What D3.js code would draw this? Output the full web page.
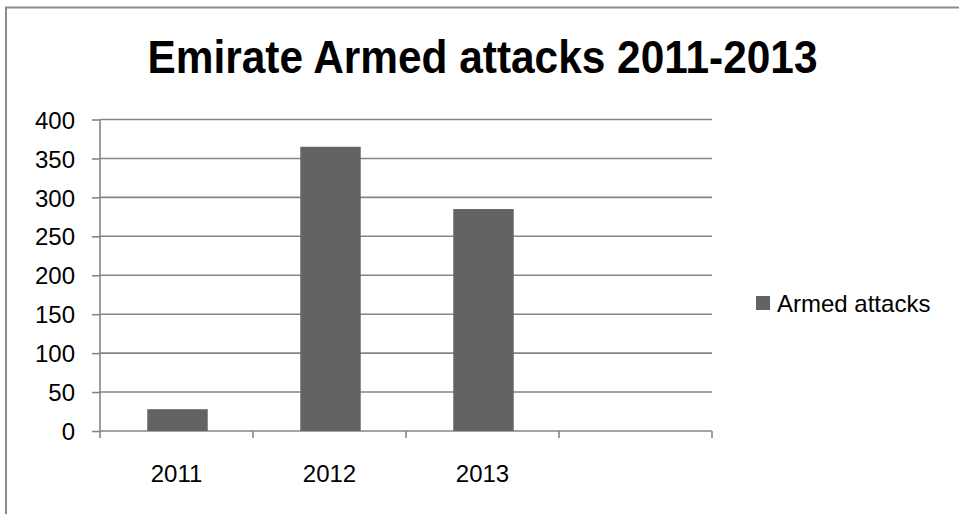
<!DOCTYPE html>
<html>
<head>
<meta charset="utf-8">
<script src="https://cdn.jsdelivr.net/npm/d3@7"></script>
<style>
  html, body { margin: 0; padding: 0; background: #ffffff; }
  svg { display: block; }
</style>
</head>
<body>
<svg id="chart" width="959" height="514"></svg>
<script>
const title = "Emirate Armed attacks 2011-2013";
const seriesName = "Armed attacks";
const categories = ["2011", "2012", "2013", ""];
const values = [28, 365, 285, null];
const yTicks = [0, 50, 100, 150, 200, 250, 300, 350, 400];

const svg = d3.select("#chart");
const W = 959, H = 514;
const plot = { left: 100, right: 712, top: 119.5, bottom: 431 };
const gridColor = "#868686";
const barColor = "#636363";
const textFont = "'Liberation Sans', Arial, sans-serif";

svg.append("rect").attr("width", W).attr("height", H).attr("fill", "#fff");

// outer chart border (extends beyond the view on right/bottom)
svg.append("rect")
  .attr("x", 6).attr("y", 7.5)
  .attr("width", 1000).attr("height", 600)
  .attr("fill", "none").attr("stroke", "#8c8c8c").attr("stroke-width", 2);

const x = d3.scaleBand().domain(categories).range([plot.left, plot.right]).padding(0);
const y = d3.scaleLinear().domain([0, 400]).range([plot.bottom, plot.top]);

// gridlines + y ticks
const yAxis = d3.axisLeft(y).tickValues(yTicks).tickSize(8).tickPadding(17).tickFormat(d3.format("d"));
const gy = svg.append("g").attr("transform", `translate(${plot.left},0)`).call(yAxis);
gy.select(".domain").remove();
gy.selectAll(".tick line").attr("stroke", gridColor).attr("stroke-width", 1.6);
gy.selectAll(".tick text")
  .attr("fill", "#000").attr("font-family", textFont).attr("font-size", 24)
  .attr("dy", "0.36em");

svg.append("g").selectAll("line").data(yTicks).join("line")
  .attr("x1", plot.left).attr("x2", plot.right)
  .attr("y1", d => y(d)).attr("y2", d => y(d))
  .attr("stroke", gridColor).attr("stroke-width", 1.6);

// y axis line
svg.append("line")
  .attr("x1", plot.left).attr("x2", plot.left)
  .attr("y1", plot.top).attr("y2", plot.bottom)
  .attr("stroke", gridColor).attr("stroke-width", 1.6);

// x axis ticks at category boundaries
const boundaries = categories.map(c => x(c)).concat([plot.right]);
svg.append("g").selectAll("line").data(boundaries).join("line")
  .attr("x1", d => d).attr("x2", d => d)
  .attr("y1", plot.bottom).attr("y2", plot.bottom + 7)
  .attr("stroke", gridColor).attr("stroke-width", 1.6);

// x labels
svg.append("g").selectAll("text").data(categories).join("text")
  .attr("x", d => x(d) + x.bandwidth() / 2)
  .attr("y", 482)
  .attr("text-anchor", "middle")
  .attr("font-family", textFont).attr("font-size", 24).attr("fill", "#000")
  .text(d => d);

// bars
const barW = x.bandwidth() * 0.395;
svg.append("g").selectAll("rect")
  .data(categories.map((c, i) => ({ c, v: values[i] })).filter(d => d.v != null))
  .join("rect")
  .attr("x", d => x(d.c) + x.bandwidth() / 2 - barW / 2 + 1)
  .attr("width", barW)
  .attr("y", d => y(d.v))
  .attr("height", d => y(0) - y(d.v))
  .attr("fill", barColor);

// title
svg.append("text")
  .attr("x", 482.5).attr("y", 72.5)
  .attr("text-anchor", "middle")
  .attr("font-family", "'Liberation Sans Narrow', 'Liberation Sans', Arial, sans-serif")
  .attr("font-weight", "bold").attr("font-size", 46).attr("fill", "#000")
  .attr("textLength", 670).attr("lengthAdjust", "spacingAndGlyphs")
  .text(title);

// legend
svg.append("rect")
  .attr("x", 756).attr("y", 296).attr("width", 14).attr("height", 14)
  .attr("fill", barColor);
svg.append("text")
  .attr("x", 777).attr("y", 311.5)
  .attr("font-family", textFont).attr("font-size", 24).attr("fill", "#000")
  .text(seriesName);
</script>
</body>
</html>
